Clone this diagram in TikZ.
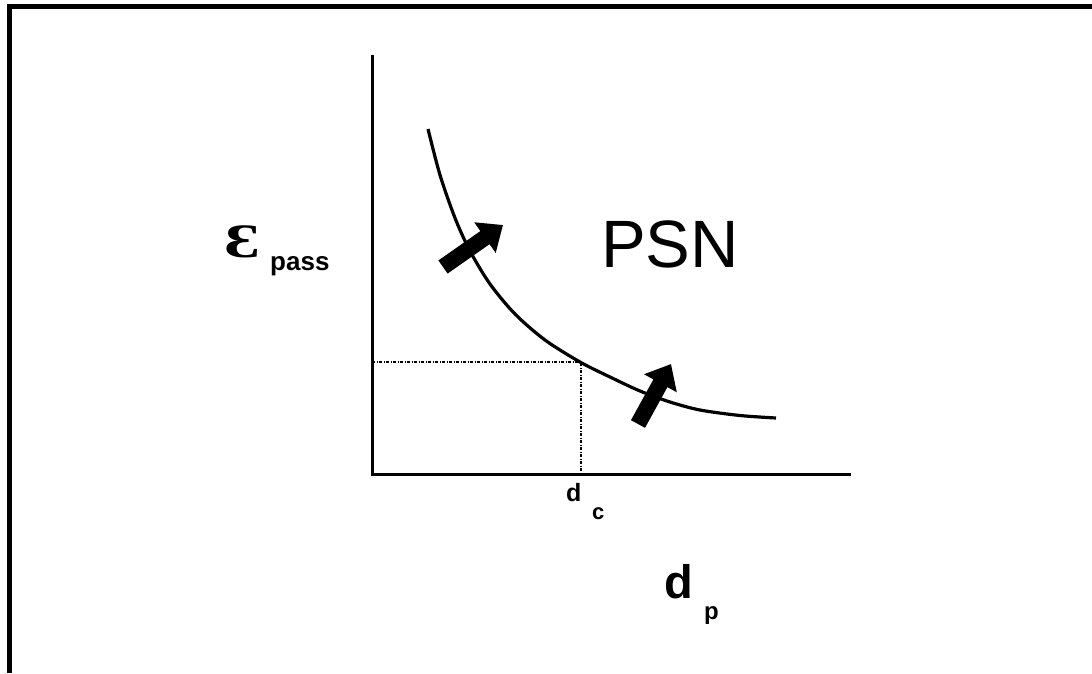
\documentclass[tikz,border=0pt]{standalone}
\usepackage{fontspec}
\setmainfont{Liberation Sans}
\newfontfamily\epsfont{Liberation Serif}
\usetikzlibrary{arrows.meta}
\tikzset{
  axis/.style={line width=3pt},
  guide/.style={line width=1.2pt, dash pattern=on 3pt off 1.5pt on 1pt off 1.5pt},
  curve/.style={line width=3.2pt},
  blockarrow/.style={line width=16pt, -{Triangle[length=22pt,width=36pt]}},
  lbl/.style={inner sep=0pt, anchor=base west}
}
\begin{document}
\begin{tikzpicture}[x=1pt,y=-1pt]
\useasboundingbox (0,0) rectangle (1092,673);
\fill[white] (0,0) rectangle (1092,673);
% frame (top and left edges)
\draw[line width=5pt] (9,673) -- (9,6.5) -- (1092,6.5);
% axes
\coordinate (o) at (372,474);
\coordinate (ytop) at (372,55);
\coordinate (xend) at (851,474);
\draw[axis] (ytop) -- (o) -- (xend);
% guides
\coordinate (p) at (581,362);
\coordinate (py) at (372,362);
\coordinate (px) at (581,474);
\draw[guide] (py) -- (p) -- (px);
% curve
\draw[curve] plot[smooth, tension=0.5] coordinates {(428,129) (440,175) (455,218) (470,251) (490,284) (515,314) (545,340) (580,362) (610,377) (640,391) (670,402) (700,410) (740,415.5) (776,418)};
% arrows
\coordinate (a1s) at (443,267);
\coordinate (a1e) at (503,225);
\draw[blockarrow] (a1s) -- (a1e);
\coordinate (a2s) at (638,424);
\coordinate (a2e) at (671,364);
\draw[blockarrow] (a2s) -- (a2e);
% labels
\node[lbl, xscale=1.4] (eps) at (224,257) {\fontsize{48}{48}\selectfont\epsfont\bfseries Ɛ};
\node[lbl] (pass) at (270,270) {\fontsize{26}{26}\selectfont\bfseries pass};
\node[lbl] (psn) at (601,267) {\fontsize{67}{67}\selectfont PSN};
\node[lbl] (dc) at (566,501) {\fontsize{25}{25}\selectfont\bfseries d};
\node[lbl] (dcs) at (592,519) {\fontsize{22}{22}\selectfont\bfseries c};
\node[lbl] (dp) at (664,598) {\fontsize{47}{47}\selectfont\bfseries d};
\node[lbl] (dps) at (704,619) {\fontsize{24}{24}\selectfont\bfseries p};
\end{tikzpicture}
\end{document}
